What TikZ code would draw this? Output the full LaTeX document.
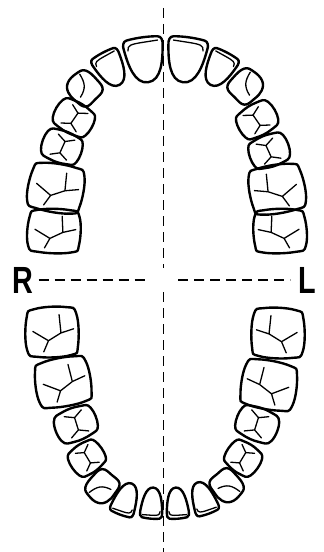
\documentclass[tikz,border=0pt]{standalone}
\usepackage{fontspec}
\setsansfont{Liberation Sans}[FakeStretch=0.76]
\usetikzlibrary{arrows}

\tikzset{
  tooth/.style={line width=2.4pt, line join=round},
  groove/.style={line width=1.3pt, line cap=round},
  midline/.style={line width=1.8pt, dash pattern=on 10bp off 6bp},
  side/.style={font=\sffamily\bfseries\fontsize{38}{38}\selectfont, inner sep=0pt},
  pics/incisor/.style={code={
    \draw[tooth] (-0.8,-0.97) .. controls (-0.3,-1.03) and (0.3,-1.03) .. (0.8,-0.97)
      .. controls (1,-0.95) and (1.05,-0.75) .. (1,-0.55)
      .. controls (0.9,0.1) and (0.7,1) .. (0,1)
      .. controls (-0.7,1) and (-0.9,0.1) .. (-1,-0.55)
      .. controls (-1.05,-0.75) and (-1,-0.95) .. (-0.8,-0.97) -- cycle;
    \draw[groove] (-0.8,-0.5) .. controls (-0.8,-0.76) and (-0.6,-0.78) .. (0,-0.79) -- (0.78,-0.8);
  }},
  pics/canine/.style={code={
    \draw[tooth] plot[smooth cycle, tension=0.7] coordinates {(-0.95,-0.5) (-0.5,-0.95) (0.3,-0.98) (0.9,-0.7) (1,0.2) (0.8,0.9) (0,1) (-0.8,0.9) (-1,0.2)};
    \draw[groove] (0.45,-0.8) .. controls (0.3,-0.2) and (0.1,0.1) .. (-0.6,0.25);
  }},
  pics/premolar/.style={code={
    \draw[tooth] plot[smooth cycle, tension=0.75] coordinates {(-0.65,-0.96) (0.65,-0.96) (1,-0.4) (0.95,0.5) (0.6,0.96) (-0.6,0.96) (-0.95,0.5) (-1,-0.4)};
    \draw[groove] (-0.7,-0.45) -- (-0.4,0) -- (-0.7,0.45) (-0.4,0) -- (0.4,0.05) (0.7,-0.4) -- (0.4,0.05) -- (0.7,0.5);
  }},
  pics/molar/.style={code={
    \draw[tooth] plot[smooth cycle, tension=0.75] coordinates {(-0.7,-1) (0.6,-0.98) (0.96,-0.65) (1,0.55) (0.7,0.98) (-0.6,1) (-0.97,0.7) (-1,-0.55)};
    \draw[groove] (-0.8,-0.35) -- (-0.35,-0.15) -- (0.05,-0.75) (-0.35,-0.15) -- (-0.05,0.35) -- (0.1,0.85) (-0.05,0.35) -- (0.7,0.3);
  }}
}

\begin{document}
\begin{tikzpicture}[x=1bp, y=-1bp]
\useasboundingbox (0,0) rectangle (323,552);

\foreach \t/\x/\y/\u/\v/\a/\w/\h in {
  incisor/145/60/186/60/8/19.5/22.5, incisor/111/69/219/69/28/14.5/18,
  canine/84/88/246/86/45/15/16, premolar/74/118/257/120/60/15.5/19.5,
  premolar/62/147/269/151/70/15.5/19.5, molar/56/188/277/189/80/23.5/26.5,
  molar/54/231/280/231/88/21.5/25.5,
  incisor/152/503/177/503/175/11/15.5, incisor/126/499/203/498/160/12/16.5,
  canine/102/487/227/486/140/14/15.5, premolar/87/458/243/458/125/15/17,
  premolar/76/424/257/424/112/16/20.5, molar/63/382/269/385/100/23.5/26.5,
  molar/52/332/278/333/92/24.5/25.5}
{
  \pic[rotate=\a, xscale=\w, yscale=\h] at (\x,\y) {\t};
  \pic[rotate=-\a, xscale=-\w, yscale=\h] at (\u,\v) {\t};
}

\node[side] (R) at (23,280) {R};
\node[side] (L) at (307,280) {L};
\coordinate (top) at (163.5,8);
\coordinate (topend) at (163.5,268);
\coordinate (bottomstart) at (163.5,292);
\coordinate (bottom) at (163.5,552);
\coordinate (gapR) at (150,280);
\coordinate (gapL) at (178,280);
\draw[midline] (top) -- (topend);
\draw[midline] (bottomstart) -- (bottom);
\draw[midline] ([xshift=5bp]R.east) -- (gapR);
\draw[midline] (gapL) -- ([xshift=-8bp]L.west);
\end{tikzpicture}
\end{document}
